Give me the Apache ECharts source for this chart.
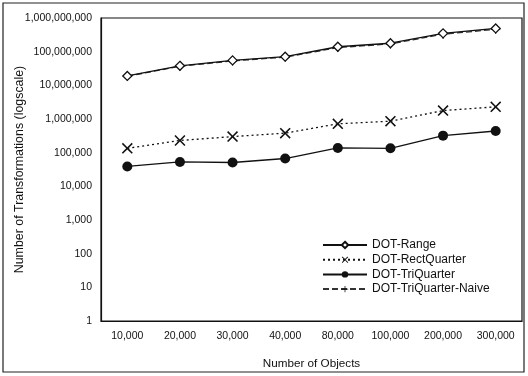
<!DOCTYPE html>
<html>
<head>
<meta charset="utf-8">
<script src="https://cdn.jsdelivr.net/npm/echarts@6/dist/echarts.min.js"></script>
<style>
  html, body { margin: 0; padding: 0; background: #fff; }
  #chart { width: 528px; height: 376px; }
</style>
</head>
<body>
<div id="chart"></div>
<script>
const categories = ['10,000', '20,000', '30,000', '40,000', '80,000', '100,000', '200,000', '300,000']

const dotRange = [19000000, 38000000, 55000000, 71000000, 140000000, 178000000, 350000000, 490000000]
const dotRectQuarter = [135000, 230000, 300000, 380000, 720000, 860000, 1780000, 2300000]
const dotTriQuarter = [39000, 53000, 51000, 67000, 138000, 135000, 320000, 440000]
const dotTriQuarterNaive = [18500000, 37000000, 53000000, 69000000, 132000000, 170000000, 330000000, 460000000]

const FONT = 'Liberation Sans, Arial, sans-serif'

const X_SYMBOL = 'path://M0,1L1,0L5,4L9,0L10,1L6,5L10,9L9,10L5,6L1,10L0,9L4,5Z'
const PLUS_SYMBOL = 'path://M4.4,0H5.6V4.4H10V5.6H5.6V10H4.4V5.6H0V4.4H4.4Z'

const fmt = (v) => Math.round(v).toLocaleString('en-US')

const chart = echarts.init(document.getElementById('chart'))

chart.setOption({
    animation: false,
    backgroundColor: '#fff',
    textStyle: { fontFamily: FONT, color: '#111' },
    graphic: [{
        type: 'rect',
        shape: { x: 3, y: 3, width: 521, height: 369 },
        style: { fill: 'none', stroke: '#222', lineWidth: 1.2 },
        silent: true
    }],
    grid: {
        left: 101, right: 6, top: 18, bottom: 55,
        outerBoundsMode: 'none',
        containLabel: false,
        show: true, borderColor: '#111', borderWidth: 1.2
    },
    legend: {
        orient: 'vertical',
        left: 322, top: 239,
        padding: 0,
        itemWidth: 44, itemHeight: 8, itemGap: 2.7,
        textStyle: { fontSize: 12, lineHeight: 12, color: '#111', fontFamily: FONT },
        data: ['DOT-Range', 'DOT-RectQuarter', 'DOT-TriQuarter', 'DOT-TriQuarter-Naive']
    },
    xAxis: {
        type: 'category',
        data: categories,
        boundaryGap: true,
        name: 'Number of Objects',
        nameLocation: 'middle',
        nameGap: 37,
        nameMoveOverlap: false,
        nameTextStyle: { fontSize: 11.7, color: '#111' },
        axisLine: { lineStyle: { color: '#111', width: 1.2 } },
        axisTick: { show: false },
        axisLabel: { fontSize: 10.5, color: '#111', margin: 10 }
    },
    yAxis: {
        type: 'log',
        logBase: 10,
        min: 1,
        max: 1000000000,
        name: 'Number of Transformations (logscale)',
        nameLocation: 'middle',
        nameGap: 75,
        nameMoveOverlap: false,
        nameTextStyle: { fontSize: 12.4, color: '#111' },
        axisLine: { show: true, lineStyle: { color: '#111', width: 1.2 } },
        axisTick: { show: false },
        splitLine: { show: false },
        axisLabel: { fontSize: 10.5, color: '#111', margin: 9, formatter: fmt }
    },
    series: [
        {
            name: 'DOT-Range', type: 'line', data: dotRange,
            symbol: 'diamond', symbolSize: 9,
            itemStyle: { color: '#fff', borderColor: '#111', borderWidth: 1.3 },
            lineStyle: { color: '#111', width: 1.3, type: 'solid' },
            z: 3
        },
        {
            name: 'DOT-RectQuarter', type: 'line', data: dotRectQuarter,
            symbol: X_SYMBOL, symbolSize: 11,
            itemStyle: { color: '#111' },
            lineStyle: { color: '#111', width: 1.3, type: [2, 3] }
        },
        {
            name: 'DOT-TriQuarter', type: 'line', data: dotTriQuarter,
            symbol: 'circle', symbolSize: 10,
            itemStyle: { color: '#111' },
            lineStyle: { color: '#111', width: 1.3, type: 'solid' }
        },
        {
            name: 'DOT-TriQuarter-Naive', type: 'line', data: dotTriQuarterNaive,
            symbol: PLUS_SYMBOL, symbolSize: 9,
            itemStyle: { color: '#111' },
            lineStyle: { color: '#333', width: 1.3, type: [6, 3] },
            z: 2
        }
    ]
})
</script>
</body>
</html>
